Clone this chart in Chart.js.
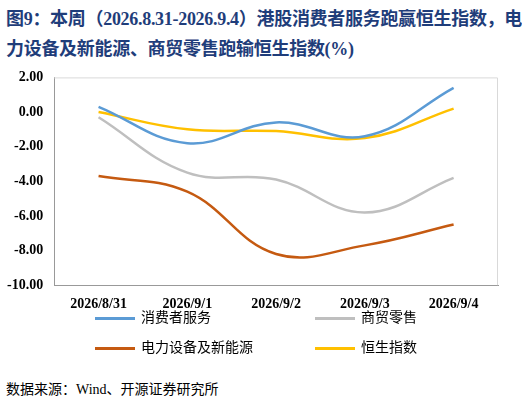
<!DOCTYPE html>
<html><head><meta charset="utf-8">
<script src="https://cdn.jsdelivr.net/npm/chart.js@4"></script>
<style>
body{margin:0;background:#fff;font-family:"Liberation Serif","Noto Sans CJK SC",serif;}
#title{position:absolute;left:6px;top:4px;width:516px;color:#1f3d7a;font-weight:bold;font-size:18px;line-height:30px;letter-spacing:-0.3px;font-family:"Liberation Serif","Noto Sans CJK SC",serif;}
#wrap{position:absolute;left:0;top:66px;width:522px;height:250px;}
#legend{position:absolute;left:95px;top:306px;font-size:14px;color:#000;}
.it{position:absolute;white-space:nowrap;}
.ln{display:inline-block;width:40px;height:3px;vertical-align:middle;margin-right:6px;}
#src{position:absolute;left:6px;top:378px;font-size:14px;}
</style></head><body>
<div id="title">图9：本周（2026.8.31-2026.9.4）港股消费者服务跑赢恒生指数，电力设备及新能源、商贸零售跑输恒生指数(%)</div>
<div id="wrap"><canvas id="c"></canvas></div>
<div id="legend"></div>
<div id="src">数据来源：Wind、开源证券研究所</div>
<script>
const categories = ['2026/8/31','2026/9/1','2026/9/2','2026/9/3','2026/9/4'];
const names = ['消费者服务','商贸零售','电力设备及新能源','恒生指数'];
const consumer = [0.3,-1.8,-0.6,-1.4,1.4];
const retail = [-0.3,-3.5,-3.9,-5.8,-3.8];
const power = [-3.7,-4.6,-8.2,-7.7,-6.5];
const hsi = [0.0,-1.0,-1.1,-1.5,0.2];
const colors = ['#5b9bd5','#bfbfbf','#c55a11','#ffc000'];
const series = [consumer,retail,power,hsi];

const pos = [[0,0],[220,0],[0,30],[220,30]];
document.getElementById('legend').innerHTML = names.map((n,i)=>
  `<div class="it" style="left:${pos[i][0]}px;top:${pos[i][1]}px"><span class="ln" style="background:${colors[i]}"></span>${n}</div>`).join('');

const canvas = document.getElementById('c');
canvas.width = 522; canvas.height = 250;
new Chart(canvas, {
  type: 'line',
  data: {
    labels: categories,
    datasets: series.map((d,i)=>({label:names[i],data:d,borderColor:colors[i],borderWidth:2.5,pointRadius:0,tension:0.4,fill:false}))
  },
  options: {
    responsive:false, animation:false,
    layout:{padding:{left:4,right:24,top:6,bottom:0}},
    plugins:{legend:{display:false},tooltip:{enabled:false}},
    scales:{
      y:{min:-10,max:2,ticks:{stepSize:2,color:'#000',font:{family:'Liberation Serif',size:14,weight:'bold'},callback:v=>v.toFixed(2)},
         grid:{display:false},border:{color:'#999'}},
      x:{offset:true,ticks:{color:'#000',font:{family:'Liberation Serif',size:14,weight:'bold'},maxRotation:0},
         grid:{display:false},border:{color:'#999'}}
    }
  },
  plugins:[{id:'box',afterDraw(ch){const a=ch.chartArea,c=ch.ctx;c.save();c.strokeStyle='#d9d9d9';c.lineWidth=1;
    c.beginPath();c.moveTo(a.left,a.top+0.5);c.lineTo(a.right-0.5,a.top+0.5);c.lineTo(a.right-0.5,a.bottom);c.stroke();c.restore();}}]
});
</script>
</body></html>
